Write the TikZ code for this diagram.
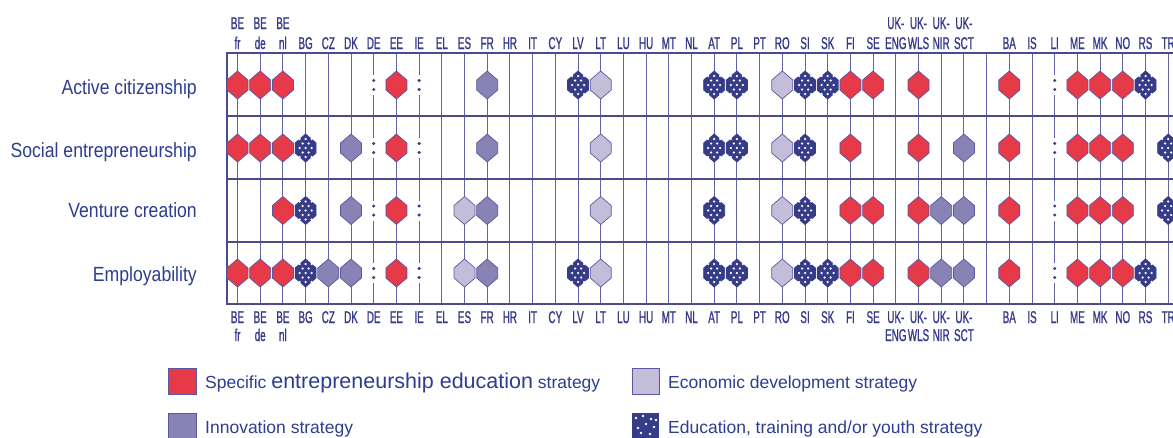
\documentclass[tikz,border=0pt]{standalone}
\usepackage{fontspec}
\setmainfont{Liberation Sans}
\newfontfamily\condf[FakeStretch=0.58,FakeBold=0.9]{Liberation Sans}
\newfontfamily\rowf[FakeStretch=0.86]{Liberation Sans}
\definecolor{txtblue}{HTML}{2D3E92}
\definecolor{hdrblue}{HTML}{34398A}
\definecolor{gridc}{HTML}{6262A6}
\definecolor{bordc}{HTML}{4A4A8C}
\definecolor{redc}{HTML}{E63A48}
\definecolor{innoc}{HTML}{8882B5}
\definecolor{econc}{HTML}{C4BDDA}
\definecolor{educ}{HTML}{363C87}
\definecolor{hexedge}{HTML}{5B58A0}
\tikzset{
  hexr/.style={fill=redc,draw=hexedge,line width=0.7},
  hexi/.style={fill=innoc,draw=hexedge,line width=0.7},
  hexd/.style={fill=econc,draw=hexedge,line width=0.7},
  hexe/.style={fill=educ,draw=educ,line width=0.7},
  gridline/.style={draw=gridc,line width=1.0},
  borderline/.style={draw=bordc,line width=1.4},
  hdr/.style={text=hdrblue,font=\condf\fontsize{17}{20}\selectfont,anchor=base,inner sep=0pt},
  rowlab/.style={text=txtblue,font=\rowf\fontsize{20.5}{24}\selectfont,anchor=base east,inner sep=0pt},
  leg/.style={text=txtblue,font=\fontsize{17.5}{21}\selectfont,anchor=base west,inner sep=0pt},
  legbox/.style={draw=hexedge,line width=0.8},
}
\newcommand\hexat[3]{%
  \draw[#3] (#1,#2-14) -- ++(10.5,9) -- ++(0,10) -- ++(-10.5,9) -- ++(-10.5,-9) -- ++(0,-10) -- cycle;}
\newcommand\mycellr[2]{\hexat{#1}{#2}{hexr}}
\newcommand\mycelli[2]{\hexat{#1}{#2}{hexi}}
\newcommand\mycelld[2]{\hexat{#1}{#2}{hexd}}
\newcommand\mycelle[2]{\hexat{#1}{#2}{hexe}%
  \foreach \dx/\dy in {-6/-9,0/-9,6/-9,-3/-4.5,3/-4.5,-6/0,0/0,6/0,-3/4.5,3/4.5,-6/9,0/9,6/9}
    {\fill[white] (#1+\dx,#2+\dy) circle (1.25);}}
\newcommand\mycellc[2]{%
  \fill[white] (#1-3,#2-10) rectangle (#1+3,#2+10);
  \fill[educ] (#1,#2-4.5) circle (1.7);
  \fill[educ] (#1,#2+4.5) circle (1.7);}
\begin{document}
\begin{tikzpicture}[x=1pt,y=-1pt]
\useasboundingbox (0,0) rectangle (1173,437);
\fill[white] (0,0) rectangle (1173,437);
\clip (0,0) rectangle (1173,437);
% vertical grid lines
\foreach \c in {0,...,41}{
  \pgfmathsetmacro\xx{237.5+22.7*\c}
  \draw[gridline] (\xx,53) -- (\xx,304);
}
% borders and row separators
\draw[borderline] (227,53) -- (227,304);
\foreach \yy in {53,116,179,242,304}{
  \draw[borderline] (226.3,\yy) -- (1180,\yy);
}
% row labels
\node[rowlab] (lab1) at (197,94) {Active citizenship};
\node[rowlab] (lab2) at (197,157.5) {Social entrepreneurship};
\node[rowlab] (lab3) at (197,217) {Venture creation};
\node[rowlab] (lab4) at (197,281.5) {Employability};
% header and footer labels
\foreach \c/\a/\b in {0/BE/fr,1/BE/de,2/BE/nl,29/UK-/ENG,30/UK-/WLS,31/UK-/NIR,32/UK-/SCT}{
  \pgfmathsetmacro\xx{237.5+22.7*\c}
  \node[hdr] (ha\c) at (\xx,29) {\a};
  \node[hdr] (hb\c) at (\xx,49) {\b};
  \node[hdr] (fa\c) at (\xx,323) {\a};
  \node[hdr] (fb\c) at (\xx,341) {\b};
}
\foreach \c/\a in {3/BG,4/CZ,5/DK,6/DE,7/EE,8/IE,9/EL,10/ES,11/FR,12/HR,13/IT,14/CY,15/LV,16/LT,17/LU,18/HU,19/MT,20/NL,21/AT,22/PL,23/PT,24/RO,25/SI,26/SK,27/FI,28/SE,34/BA,35/IS,36/LI,37/ME,38/MK,39/NO,40/RS,41/TR}{
  \pgfmathsetmacro\xx{237.5+22.7*\c}
  \node[hdr] (hb\c) at (\xx,49) {\a};
  \node[hdr] (fa\c) at (\xx,323) {\a};
}
% cells
\foreach \yy/\lst in {
  85/{0/r,1/r,2/r,6/c,7/r,8/c,11/i,15/e,16/d,21/e,22/e,24/d,25/e,26/e,27/r,28/r,30/r,34/r,36/c,37/r,38/r,39/r,40/e},
  148/{0/r,1/r,2/r,3/e,5/i,6/c,7/r,8/c,11/i,16/d,21/e,22/e,24/d,25/e,27/r,30/r,32/i,34/r,36/c,37/r,38/r,39/r,41/e},
  210.5/{2/r,3/e,5/i,6/c,7/r,8/c,10/d,11/i,16/d,21/e,24/d,25/e,27/r,28/r,30/r,31/i,32/i,34/r,36/c,37/r,38/r,39/r,41/e},
  273/{0/r,1/r,2/r,3/e,4/i,5/i,6/c,7/r,8/c,10/d,11/i,15/e,16/d,21/e,22/e,24/d,25/e,26/e,27/r,28/r,30/r,31/i,32/i,34/r,36/c,37/r,38/r,39/r,40/e}}{
  \foreach \c/\t in \lst {
    \pgfmathsetmacro\xx{237.5+22.7*\c}
    \csname mycell\t\endcsname{\xx}{\yy}
  }
}
% legend
\fill[redc,legbox] (168,368) rectangle (196,394);
\fill[innoc,legbox] (168,413) rectangle (196,439);
\fill[econc,legbox] (632,368) rectangle (659,394);
\fill[educ] (632,413) rectangle (659,439);
\foreach \px/\py in {636/418,643/416,651/419,646/424,638/428,654/427,641/433,650/434,656/420}{
  \fill[white] (\px,\py-1.4) -- (\px+1.4,\py) -- (\px,\py+1.4) -- (\px-1.4,\py) -- cycle;
}
\node[leg] (leg1) at (205,388) {Specific {\fontsize{21.5}{24}\selectfont entrepreneurship education} strategy};
\node[leg] (leg2) at (205,433) {Innovation strategy};
\node[leg] (leg3) at (668,388) {Economic development strategy};
\node[leg] (leg4) at (668,433) {Education, training and/or youth strategy};
\end{tikzpicture}
\end{document}
